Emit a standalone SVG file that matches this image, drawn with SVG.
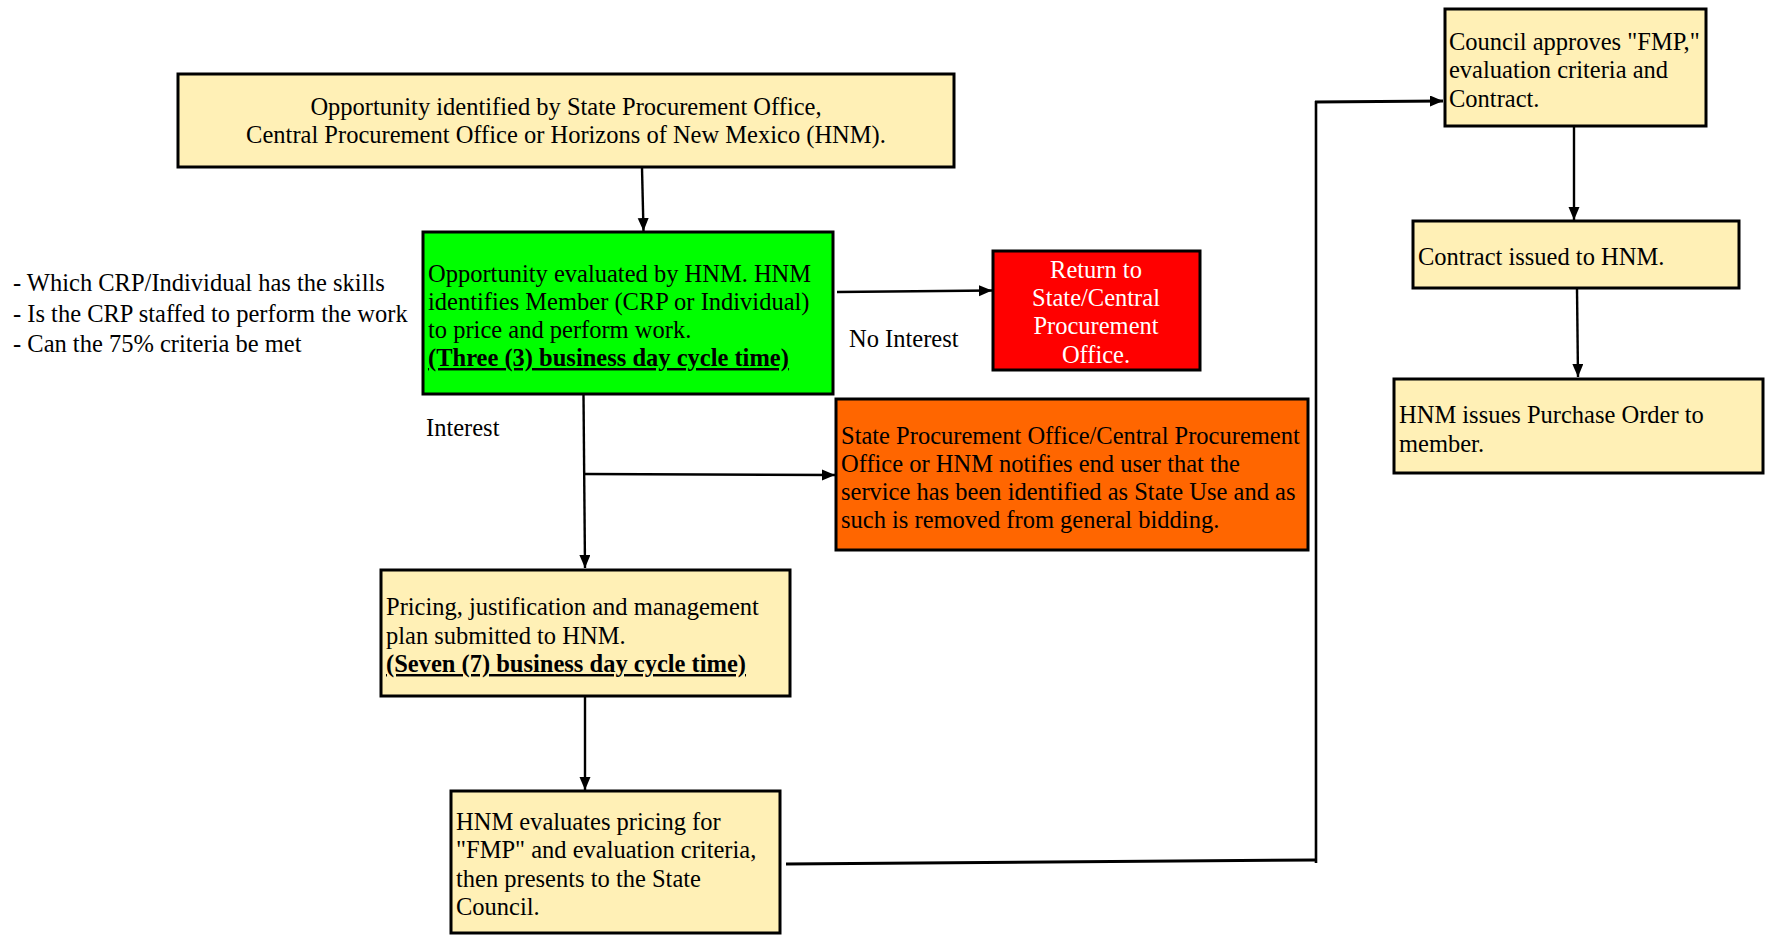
<svg xmlns="http://www.w3.org/2000/svg" width="1767" height="935" viewBox="0 0 1767 935">
<style>
text{font-family:"Liberation Serif","Times New Roman",serif;font-size:24.5px;fill:#000}
.box{stroke:#000;stroke-width:3}
.y{fill:#FFF0B6}
.c{stroke:#000;stroke-width:2.4;fill:none}
.b{font-weight:bold;text-decoration:underline}
.w{fill:#fff}
</style>
<defs>
<marker id="ah" markerUnits="userSpaceOnUse" markerWidth="14" markerHeight="12" refX="13" refY="5.5" orient="auto">
<path d="M0,0 L13,5.5 L0,11 z" fill="#000"/>
</marker>
</defs>
<rect width="1767" height="935" fill="#fff"/>
<g id="connectors">
<line class="c" x1="642" y1="168" x2="643.5" y2="231" marker-end="url(#ah)"/>
<line class="c" x1="837" y1="292" x2="992" y2="290.5" marker-end="url(#ah)"/>
<line class="c" x1="583.5" y1="395" x2="585" y2="568" marker-end="url(#ah)"/>
<line class="c" x1="583.5" y1="474" x2="835" y2="475" marker-end="url(#ah)"/>
<line class="c" x1="585" y1="697" x2="585" y2="790" marker-end="url(#ah)"/>
<line class="c" style="stroke-width:3" x1="786" y1="864" x2="1315" y2="860"/>
<line class="c" style="stroke-width:2.6" x1="1316" y1="863" x2="1316" y2="101"/>
<line class="c" style="stroke-width:2.8" x1="1315" y1="102" x2="1443" y2="101" marker-end="url(#ah)"/>
<line class="c" x1="1574" y1="127" x2="1574" y2="220" marker-end="url(#ah)"/>
<line class="c" x1="1577" y1="289" x2="1578" y2="377" marker-end="url(#ah)"/>
</g>
<g id="top">
<rect class="box y" x="178" y="74" width="776" height="93"/>
<text x="566" y="115" text-anchor="middle">Opportunity identified by State Procurement Office,</text>
<text x="566" y="143" text-anchor="middle">Central Procurement Office or Horizons of New Mexico (HNM).</text>
</g>
<g id="criteria">
<text x="13" y="291">- Which CRP/Individual has the skills</text>
<text x="13" y="322">- Is the CRP staffed to perform the work</text>
<text x="13" y="352">- Can the 75% criteria be met</text>
</g>
<g id="evaluated">
<rect class="box" fill="#00FF00" x="423" y="232" width="410" height="162"/>
<text x="428" y="282">Opportunity evaluated by HNM. HNM</text>
<text x="428" y="310">identifies Member (CRP or Individual)</text>
<text x="428" y="338">to price and perform work.</text>
<text x="428" y="366" class="b">(Three (3) business day cycle time)</text>
</g>
<g id="labels">
<text x="849" y="347">No Interest</text>
<text x="426" y="436">Interest</text>
</g>
<g id="return">
<rect class="box" fill="#FF0000" x="993" y="251" width="207" height="119"/>
<text class="w" x="1096" y="278" text-anchor="middle">Return to</text>
<text class="w" x="1096" y="306" text-anchor="middle">State/Central</text>
<text class="w" x="1096" y="334" text-anchor="middle">Procurement</text>
<text class="w" x="1096" y="363" text-anchor="middle">Office.</text>
</g>
<g id="notify">
<rect class="box" fill="#FF6600" x="836" y="399" width="472" height="151"/>
<text x="841" y="444">State Procurement Office/Central Procurement</text>
<text x="841" y="472">Office or HNM notifies end user that the</text>
<text x="841" y="500">service has been identified as State Use and as</text>
<text x="841" y="528">such is removed from general bidding.</text>
</g>
<g id="pricing">
<rect class="box y" x="381" y="570" width="409" height="126"/>
<text x="386" y="615">Pricing, justification and management</text>
<text x="386" y="644">plan submitted to HNM.</text>
<text x="386" y="672" class="b">(Seven (7) business day cycle time)</text>
</g>
<g id="hnmeval">
<rect class="box y" x="451" y="791" width="329" height="142"/>
<text x="456" y="830">HNM evaluates pricing for</text>
<text x="456" y="858">"FMP" and evaluation criteria,</text>
<text x="456" y="887">then presents to the State</text>
<text x="456" y="915">Council.</text>
</g>
<g id="council">
<rect class="box y" x="1445" y="9" width="261" height="117"/>
<text x="1449" y="50">Council approves "FMP,"</text>
<text x="1449" y="78">evaluation criteria and</text>
<text x="1449" y="107">Contract.</text>
</g>
<g id="contract">
<rect class="box y" x="1413" y="221" width="326" height="67"/>
<text x="1418" y="265">Contract issued to HNM.</text>
</g>
<g id="po">
<rect class="box y" x="1394" y="379" width="369" height="94"/>
<text x="1399" y="423">HNM issues Purchase Order to</text>
<text x="1399" y="452">member.</text>
</g>
</svg>
